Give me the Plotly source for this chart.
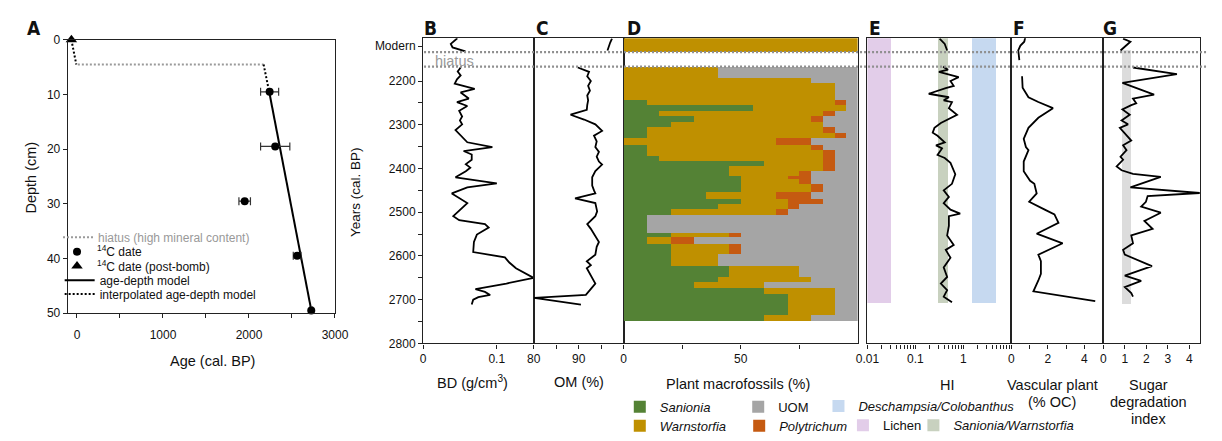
import plotly.graph_objects as go

W, H = 1222, 441


def fx(p):
    return p / W


def fy(p):
    return 1 - p / H


# ---------------- Panel A: age-depth model ----------------
hiatus_age = [10, 2170]
hiatus_depth = [4.5, 4.5]
c14_age = [2240, 2305, 1950, 2560, 2724]
c14_depth = [9.5, 19.5, 29.5, 39.5, 49.5]
c14_err = [105, 170, 67, 45, 15]
bomb_age = [-65]
bomb_depth = [0]
model_age = [2235, 2725]
model_depth = [9.5, 49.5]
interp_age = [-65, -8, None, 2170, 2235]
interp_depth = [0, 4.5, None, 4.5, 9.5]

# ---------------- Panel B: bulk density ----------------
bd_years = [2102, 2115, 2123, 2132, None,
            2169, 2178, 2187, 2196, 2206, 2218, 2226, 2240, 2248, 2257, 2268, 2281, 2290, 2299,
            2312, 2321, 2340, 2351, 2360, 2368, 2380, 2390, 2398, 2406, 2420, 2434, 2443, 2457,
            2479, 2509, 2518, 2527, 2535, 2551, 2568, 2591, 2603, 2615, 2628, 2650, 2663, 2676,
            2682, 2689, 2694, 2700, 2711]
bd_values = [0.0465, 0.0376, 0.040, 0.0575, None,
             0.051, 0.047, 0.051, 0.046, 0.043, 0.070, 0.051, 0.062, 0.046, 0.060, 0.049, 0.053,
             0.050, 0.053, 0.044, 0.049, 0.060, 0.094, 0.055, 0.066, 0.066, 0.058, 0.064, 0.058,
             0.044, 0.100, 0.060, 0.039, 0.060, 0.041, 0.049, 0.084, 0.089, 0.073, 0.069, 0.068,
             0.111, 0.117, 0.126, 0.150, 0.113, 0.071, 0.084, 0.091, 0.075, 0.068, 0.066]

# ---------------- Panel C: organic matter ----------------
om_years = [2103, 2112, 2130, None,
            2169, 2179, 2189, 2200, 2211, 2222, 2233, 2244, 2255, 2266, 2277, 2288, 2299, 2314,
            2325, 2338, 2351, 2362, 2373, 2384, 2391, 2406, 2420, 2439, 2450, 2457, 2468, 2479,
            2498, 2509, 2527, 2538, 2568, 2579, 2597, 2612, 2621, 2628, 2663, 2689, 2696, 2711]
om_values = [97.4, 97.0, 96.4, None,
             89.8, 92.3, 91.9, 92.7, 92.1, 92.5, 91.9, 92.1, 91.9, 91.8, 88.2, 91.2, 93.7, 95.2,
             93.4, 94.0, 93.7, 94.5, 94.0, 94.5, 95.2, 93.7, 93.0, 93.0, 93.4, 93.7, 89.2, 93.7,
             94.1, 93.7, 91.9, 92.7, 94.5, 94.0, 93.7, 91.8, 92.7, 91.8, 93.7, 91.6, 80.1, 90.5]

# ---------------- Panel D: plant macrofossils (%) ----------------
d_top = [2103, 2168, 2193, 2206, 2244, 2256, 2268, 2281, 2293, 2306, 2319, 2331, 2346, 2357,
         2371, 2384, 2394, 2406, 2418, 2424, 2435, 2455, 2470, 2482, 2494, 2507, 2548, 2558,
         2574, 2596, 2624, 2648, 2660, 2674, 2688, 2736]
d_bottom = [2134, 2193, 2206, 2244, 2256, 2268, 2281, 2293, 2306, 2319, 2331, 2346, 2357, 2371,
            2384, 2394, 2406, 2418, 2424, 2435, 2455, 2470, 2482, 2494, 2507, 2548, 2558, 2574,
            2596, 2624, 2648, 2660, 2674, 2688, 2736, 2750]
sanionia = [0, 0, 0, 0, 10, 55, 15, 30, 20, 10, 10, 0, 10, 10, 15, 60, 45, 45, 50, 50, 50, 35,
            50, 40, 20, 10, 20, 10, 20, 20, 45, 40, 30, 60, 70, 60]
warnstorfia = [100, 40, 80, 90, 80, 40, 70, 50, 65, 75, 80, 65, 70, 75, 70, 25, 40, 30, 20, 25,
               30, 30, 20, 30, 45, 0, 25, 10, 25, 20, 30, 40, 30, 30, 20, 20]
polytrichum = [0, 0, 0, 0, 5, 0, 5, 5, 0, 5, 5, 15, 5, 5, 5, 5, 5, 5, 10, 5, 5, 15, 15, 5, 5, 0,
               5, 10, 5, 0, 0, 0, 0, 0, 0, 0]
uom = [0, 60, 20, 10, 5, 5, 10, 15, 15, 10, 5, 20, 15, 10, 10, 10, 10, 20, 20, 20, 15, 20, 15,
       25, 30, 90, 50, 70, 50, 60, 25, 20, 40, 10, 10, 20]

# ---------------- Panel E: HI with reference ranges ----------------
hi_years = [2103, 2115, 2130, None,
            2167, 2171, 2174, 2179, 2191, 2200, 2211, 2216, 2229, 2237, 2244, 2248, 2262, 2277,
            2296, 2307, 2318, 2325, 2340, 2347, 2354, 2369, 2376, 2387, 2413, 2435, 2450, 2465,
            2479, 2494, 2503, 2509, 2531, 2553, 2575, 2586, 2604, 2626, 2648, 2663, 2678, 2693, 2706]
hi_values = [0.32, 0.41, 0.46, None,
             0.38, 0.43, 0.48, 0.31, 0.80, 0.54, 0.63, 0.43, 0.19, 0.50, 0.39, 0.58, 0.50, 0.74,
             0.34, 0.25, 0.23, 0.29, 0.41, 0.27, 0.36, 0.29, 0.41, 0.54, 0.68, 0.58, 0.39, 0.50,
             0.39, 0.54, 0.86, 0.50, 0.50, 0.46, 0.63, 0.43, 0.54, 0.39, 0.46, 0.34, 0.46, 0.39, 0.58]
band_names = ["<i>Deschampsia/Colobanthus</i>", "Lichen", "<i>Sanionia/Warnstorfia</i>"]
band_low = [1.55, 0.01, 0.30]
band_high = [4.9, 0.0316, 0.48]
band_top = [2102, 2102, 2102]
band_bottom = [2708, 2708, 2708]

# ---------------- Panel F: vascular plant (% OC) ----------------
vp_years = [2101, 2110, 2119, 2130, 2140, 2152, None,
            2189, 2215, 2237, 2248, 2262, 2284, 2307, 2332, 2351, 2358, 2384, 2406, 2428, 2435,
            2457, 2476, 2494, 2505, 2524, 2549, 2571, 2597, 2612, 2641, 2656, 2681, 2703]
vp_values = [0.76, 0.71, 0.50, 0.38, 0.41, 0.44, None,
             0.59, 0.62, 0.94, 1.48, 2.28, 1.48, 0.94, 0.68, 0.80, 0.94, 0.68, 0.68, 1.03, 1.26,
             1.39, 0.98, 1.83, 2.36, 2.58, 1.39, 2.81, 1.48, 1.62, 1.62, 1.48, 1.21, 4.59]

# ---------------- Panel G: sugar degradation index ----------------
sdi_years = [2103, 2110, 2130, None,
             2169, 2184, 2204, 2231, 2240, 2251, 2255, 2265, 2277, 2290, 2299, 2307, 2336, 2347,
             2358, 2373, 2380, 2395, 2404, 2412, 2419, 2443, 2456, 2463, 2476, 2487, 2501, 2520,
             2538, 2553, 2571, 2586, 2597, 2623, 2645, 2657, 2671, 2685, 2693]
sdi_values = [0.92, 1.26, 0.80, None,
              1.38, 3.42, 0.89, 2.36, 1.38, 1.53, 1.30, 0.89, 1.23, 0.85, 1.15, 0.77, 1.30, 0.92,
              1.08, 0.80, 0.92, 0.62, 0.85, 1.38, 2.67, 1.26, 4.48, 2.06, 1.98, 1.76, 2.67, 1.91,
              2.29, 1.30, 1.38, 0.92, 1.00, 2.26, 1.00, 1.76, 1.00, 1.30, 1.38]
sdi_band = [0.9, 1.3]
sdi_band_years = [2130, 2710]

hiatus_years = [2134, 2167]

year_ticks = [2120, 2200, 2300, 2400, 2500, 2600, 2700, 2800]
year_labels = ["Modern", "2200", "2300", "2400", "2500", "2600", "2700", "2800"]
year_minor = [2250, 2350, 2450, 2550, 2650, 2750]

# ---------------- colours / fonts ----------------
C_SAN = "#548235"
C_WAR = "#BF9000"
C_POL = "#C55A11"
C_UOM = "#A5A5A5"
band_colors = ["#C6D9F0", "#E2CDE9", "#C8D1BF"]
FONT = "Liberation Sans, Arial, sans-serif"
LETTER_FONT = "DejaVu Sans Condensed, DejaVu Sans, sans-serif"
AXC = "#222222"

fig = go.Figure()

# ---- Panel A traces ----
fig.add_trace(go.Scatter(x=hiatus_age, y=hiatus_depth, mode="lines",
                         line=dict(color="#9a9a9a", width=2, dash="2px,2px"),
                         name="hiatus (high mineral content)", xaxis="x", yaxis="y", legend="legend"))
fig.add_trace(go.Scatter(x=model_age, y=model_depth, mode="lines",
                         line=dict(color="black", width=2),
                         name="age-depth model", xaxis="x", yaxis="y", legend="legend4"))
fig.add_trace(go.Scatter(x=interp_age, y=interp_depth, mode="lines",
                         line=dict(color="black", width=2, dash="2px,2px"),
                         name="interpolated age-depth model", xaxis="x", yaxis="y", legend="legend5"))
fig.add_trace(go.Scatter(x=c14_age, y=c14_depth, mode="markers",
                         marker=dict(symbol="circle", size=8, color="black"),
                         error_x=dict(type="data", array=c14_err, color="#333333", thickness=1.2, width=4),
                         name="<sup>14</sup>C date", xaxis="x", yaxis="y", legend="legend2",
                         cliponaxis=False))
fig.add_trace(go.Scatter(x=bomb_age, y=bomb_depth, mode="markers",
                         marker=dict(symbol="triangle-up", size=10, color="black"),
                         name="<sup>14</sup>C date (post-bomb)", xaxis="x", yaxis="y", legend="legend3",
                         cliponaxis=False))

# ---- Panel D stacked bars ----
d_center = [(t + b) / 2 for t, b in zip(d_top, d_bottom)]
d_height = [b - t for t, b in zip(d_top, d_bottom)]
base_san = [0] * len(sanionia)
base_war = [s for s in sanionia]
base_pol = [s + w for s, w in zip(sanionia, warnstorfia)]
base_uom = [s + w + p for s, w, p in zip(sanionia, warnstorfia, polytrichum)]
for vals, base, col, nm, lg in [
    (sanionia, base_san, C_SAN, "<i>Sanionia</i>", "legend6"),
    (warnstorfia, base_war, C_WAR, "<i>Warnstorfia</i>", "legend7"),
    (polytrichum, base_pol, C_POL, "<i>Polytrichum</i>", "legend8"),
    (uom, base_uom, C_UOM, "UOM", "legend9"),
]:
    fig.add_trace(go.Bar(orientation="h", y=d_center, x=vals, base=base, width=d_height,
                         marker=dict(color=col, line=dict(width=0)), name=nm,
                         xaxis="x4", yaxis="y4", legend=lg))

# ---- Panel E bands ----
for i, lg in enumerate(["legend10", "legend11", "legend12"]):
    fig.add_trace(go.Bar(orientation="h",
                         y=[(band_top[i] + band_bottom[i]) / 2],
                         x=[band_high[i] - band_low[i]], base=[band_low[i]],
                         width=[band_bottom[i] - band_top[i]],
                         marker=dict(color=band_colors[i], line=dict(width=0)),
                         name=band_names[i], xaxis="x5", yaxis="y5", legend=lg))

# ---- Panel G band ----
fig.add_trace(go.Bar(orientation="h", y=[(sdi_band_years[0] + sdi_band_years[1]) / 2],
                     x=[sdi_band[1] - sdi_band[0]], base=[sdi_band[0]],
                     width=[sdi_band_years[1] - sdi_band_years[0]],
                     marker=dict(color="#DCDCDC", line=dict(width=0)),
                     showlegend=False, xaxis="x7", yaxis="y7"))

# ---- profile lines ----
for xs, ys, ax in [(bd_values, bd_years, "2"), (om_values, om_years, "3"),
                   (hi_values, hi_years, "5"), (vp_values, vp_years, "6"),
                   (sdi_values, sdi_years, "7")]:
    fig.add_trace(go.Scatter(x=xs, y=ys, mode="lines", line=dict(color="black", width=1.8),
                             showlegend=False, xaxis="x" + ax, yaxis="y" + ax))

# ---------------- axes ----------------
tickfont = dict(family=FONT, size=12, color="#111111")
common_line = dict(showline=True, linecolor=AXC, linewidth=1.2, mirror=True,
                   showgrid=False, zeroline=False, tickfont=tickfont, tickcolor=AXC)


def minor(vals):
    return dict(tickvals=vals, ticks="outside", ticklen=4, tickcolor=AXC, showgrid=False)


ydom = [fy(348.3), fy(32.3)]

layout = dict(
    width=W, height=H, margin=dict(l=0, r=0, t=0, b=0),
    paper_bgcolor="white", plot_bgcolor="rgba(0,0,0,0)",
    barmode="overlay", bargap=0, bargroupgap=0, showlegend=True,
    font=dict(family=FONT, color="#111111"),
    xaxis=dict(domain=[fx(57), fx(330)], range=[-107, 3000], anchor="y",
               tickvals=[0, 1000, 2000, 3000], minor=minor([500, 1500, 2500]),
               ticks="outside", ticklen=4, ticklabelstandoff=6, **common_line),
    yaxis=dict(domain=[fy(317), fy(34)], range=[50, 0], anchor="x",
               tickvals=[0, 10, 20, 30, 40, 50], ticks="outside", ticklen=4, **common_line),
    xaxis2=dict(domain=[fx(420), fx(533)], range=[0, 0.15], anchor="y2",
                tickvals=[0, 0.1], ticktext=["0", "0.1"], ticks="outside", ticklen=4, **common_line),
    yaxis2=dict(domain=ydom, range=[2800, 2102], anchor="x2",
                tickvals=year_ticks, ticktext=year_labels, minor=minor(year_minor),
                ticks="outside", ticklen=4, **common_line),
    xaxis3=dict(domain=[fx(533), fx(625)], range=[80, 100], anchor="y3",
                tickvals=[80, 90], minor=minor([85, 95]), ticks="outside", ticklen=4,
                **common_line),
    xaxis4=dict(domain=[fx(625), fx(864)], range=[0, 100], anchor="y4",
                tickvals=[0, 50], minor=minor([25, 75]), ticks="outside", ticklen=4,
                **common_line),
    xaxis5=dict(domain=[fx(874), fx(1021)], type="log", range=[-2, 1], anchor="y5",
                tickvals=[0.01, 0.1, 1], ticktext=["0.01", "0.1", "1"],
                minor=minor([m * 10 ** e for e in (-2, -1, 0) for m in range(2, 10)]),
                ticks="outside", ticklen=4, **common_line),
    xaxis6=dict(domain=[fx(1021), fx(1115)], range=[0, 5.03], anchor="y6",
                tickvals=[0, 2, 4], minor=minor([1, 3]), ticks="outside", ticklen=4,
                **common_line),
    xaxis7=dict(domain=[fx(1115), fx(1214)], range=[0, 4.5], anchor="y7",
                tickvals=[0, 1, 2, 3, 4], ticks="outside", ticklen=4, **common_line),
)
for k in range(3, 8):
    layout["yaxis%d" % k] = dict(domain=ydom, matches="y2", anchor="x%d" % k,
                                 showticklabels=False, ticks="", **common_line)


# ---------------- legends (one per item, placed like the original) ----------------
def leg(x_text, y_mid, size, color="#111111"):
    return dict(x=fx(x_text - 42), y=fy(y_mid), xanchor="left", yanchor="middle",
                bgcolor="rgba(0,0,0,0)", borderwidth=0,
                font=dict(family=FONT, size=size, color=color))


layout["legend"] = leg(89, 238.3, 12, "#999999")
layout["legend2"] = leg(88, 253.3, 12)
layout["legend3"] = leg(88, 268, 12)
layout["legend4"] = leg(90.7, 283, 12)
layout["legend5"] = leg(90.7, 297, 12)
layout["legend6"] = leg(663, 414, 13)
layout["legend7"] = leg(663, 433.5, 13)
layout["legend8"] = leg(785, 433.5, 13)
layout["legend9"] = leg(784, 414, 13)
layout["legend10"] = leg(866, 413, 13)
layout["legend11"] = leg(891, 433, 13)
layout["legend12"] = leg(963, 433, 13)

fig.update_layout(**layout)

# ---------------- hiatus lines ----------------
for yv in hiatus_years:
    fig.add_shape(type="line", xref="paper", yref="y2", x0=fx(421), x1=1.0, y0=yv, y1=yv,
                  line=dict(color="#8f8f8f", width=2.2, dash="2px,2px"), layer="above")

# ---------------- annotations ----------------
ann = []


def text(x, y, s, size, angle=0, color="#111111", family=FONT):
    ann.append(dict(x=fx(x), y=fy(y), xref="paper", yref="paper", text=s, showarrow=False,
                    xanchor="center", yanchor="middle", textangle=angle,
                    font=dict(family=family, size=size, color=color)))


for letter, lx in [("A", 22.5), ("B", 427.5), ("C", 541.7), ("D", 635.5), ("E", 882),
                   ("F", 1029), ("G", 1122)]:
    text(lx, 21.5, "<b>%s</b>" % letter, 19, family=LETTER_FONT)

text(19, 177, "Depth (cm)", 14.5, angle=-90)
text(205, 366, "Age (cal. BP)", 14.5)
text(351, 192, "Years (cal. BP)", 13.5, angle=-90)
text(471, 388, "BD (g/cm<sup>3</sup>)", 14.5)
text(579, 388, "OM (%)", 14.5)
text(742, 390, "Plant macrofossils (%)", 14.5)
text(955.7, 391, "HI", 14.5)
text(1063, 391, "Vascular plant", 14.5)
text(1063, 409, "(% OC)", 14.5)
text(1161.7, 391, "Sugar", 14.5)
text(1161.7, 408.7, "degradation", 14.5)
text(1161.7, 426.3, "index", 14.5)
text(452, 56, "hiatus", 14.5, color="#9a9a9a")

fig.update_layout(annotations=ann)

fig.write_html("out.html", config={"displayModeBar": False},
               post_script="document.body.style.margin='0px';"
                           "document.documentElement.style.overflow='hidden';")
